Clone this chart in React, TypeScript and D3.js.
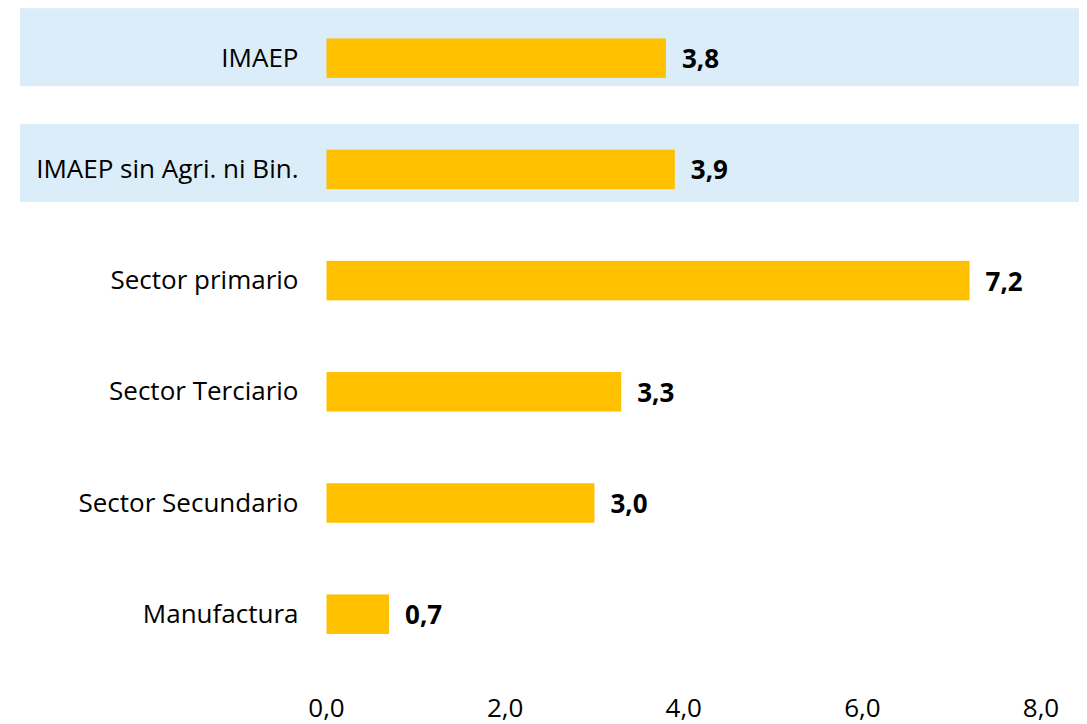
import React from "react";
import * as d3 from "d3";

const categories = [
  "IMAEP",
  "IMAEP sin Agri. ni Bin.",
  "Sector primario",
  "Sector Terciario",
  "Sector Secundario",
  "Manufactura",
];
const values = [3.8, 3.9, 7.2, 3.3, 3.0, 0.7];
const highlighted = ["IMAEP", "IMAEP sin Agri. ni Bin."];
const xTicks = [0, 2, 4, 6, 8];

const width = 1087;
const height = 724;
const font = "'Open Sans', 'Noto Sans', sans-serif";

const fmt = (v: number) => v.toFixed(1).replace(".", ",");

const App = () => {
  const xScale = d3.scaleLinear().domain([0, 8]).range([326.5, 1041]);

  const yScale = d3
    .scaleBand<string>()
    .domain(categories)
    .range([2.6, 669.8])
    .paddingInner(0.645)
    .paddingOuter(0.3225);

  const bw = yScale.bandwidth();

  return (
    <svg
      width={width}
      height={height}
      style={{ position: "absolute", left: 0, top: 0, background: "#fff" }}
      fontFamily={font}
    >
      {/* highlight bands */}
      {highlighted.map((c, i) => {
        const cy = (yScale(c) as number) + bw / 2;
        return (
          <rect
            key={c}
            x={20}
            y={cy - 50 + i * 4.5}
            width={1059}
            height={78}
            fill="#DAEDF8"
          />
        );
      })}
      {/* bars */}
      {categories.map((c, i) => {
        const y0 = yScale(c) as number;
        const cy = y0 + bw / 2;
        return (
          <g key={c}>
            <rect
              x={xScale(0)}
              y={y0}
              width={xScale(values[i]) - xScale(0)}
              height={bw}
              fill="#FFC000"
            />
            <text
              x={xScale(0) - 28}
              y={cy + 8.5}
              textAnchor="end"
              fontSize="26px"
              fill="#000"
            >
              {c}
            </text>
            <text
              x={xScale(values[i]) + 16}
              y={cy + 10}
              fontSize="26px"
              fontWeight="bold"
              fill="#000"
            >
              {fmt(values[i])}
            </text>
          </g>
        );
      })}
      {/* x axis labels */}
      {xTicks.map((t) => (
        <text
          key={t}
          x={xScale(t)}
          y={717}
          textAnchor="middle"
          fontSize="26px"
          fill="#000"
        >
          {fmt(t)}
        </text>
      ))}
    </svg>
  );
};

export default App;
